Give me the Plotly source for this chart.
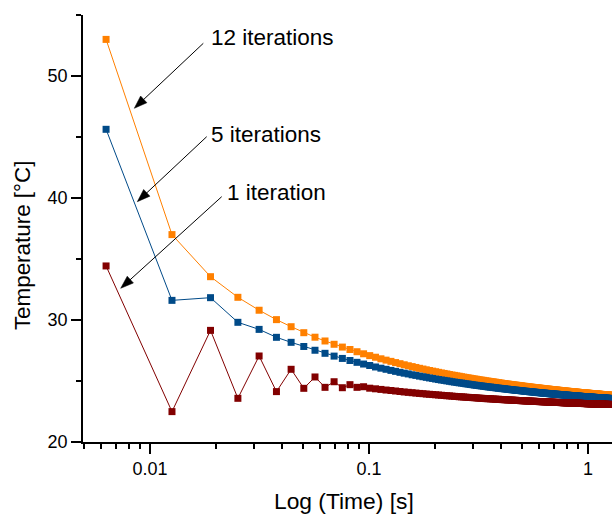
import math
import plotly.graph_objects as go

# time grid (s): constant step of 0.0063 s, 200 samples
time_step = 0.0063
time_s = [round(time_step * k, 5) for k in range(1, 201)]

temp_12_iter = [
    53.0, 37.0, 33.55, 31.86, 30.8, 30.03, 29.45, 28.96, 28.59, 28.28,
    28.01, 27.78, 27.58, 27.40, 27.23, 27.08, 26.95, 26.82, 26.71, 26.61,
    26.51, 26.42, 26.33, 26.25, 26.18, 26.11, 26.04, 25.98, 25.92, 25.86,
    25.81, 25.76, 25.71, 25.66, 25.62, 25.58, 25.53, 25.49, 25.46, 25.42,
    25.39, 25.35, 25.32, 25.29, 25.26, 25.23, 25.20, 25.17, 25.15, 25.12,
    25.09, 25.07, 25.05, 25.02, 25.00, 24.98, 24.96, 24.94, 24.92, 24.90,
    24.88, 24.86, 24.84, 24.82, 24.80, 24.79, 24.77, 24.75, 24.74, 24.72,
    24.71, 24.69, 24.68, 24.66, 24.65, 24.64, 24.62, 24.61, 24.60, 24.58,
    24.57, 24.56, 24.55, 24.53, 24.52, 24.51, 24.50, 24.49, 24.48, 24.47,
    24.46, 24.45, 24.44, 24.43, 24.42, 24.41, 24.40, 24.39, 24.38, 24.37,
    24.36, 24.35, 24.34, 24.33, 24.33, 24.32, 24.31, 24.30, 24.29, 24.28,
    24.28, 24.27, 24.26, 24.26, 24.25, 24.24, 24.23, 24.23, 24.22, 24.21,
    24.20, 24.20, 24.19, 24.18, 24.18, 24.17, 24.16, 24.16, 24.15, 24.15,
    24.14, 24.13, 24.13, 24.12, 24.12, 24.11, 24.11, 24.10, 24.09, 24.09,
    24.08, 24.08, 24.07, 24.07, 24.06, 24.06, 24.05, 24.05, 24.04, 24.04,
    24.03, 24.03, 24.02, 24.02, 24.01, 24.01, 24.00, 24.00, 23.99, 23.99,
    23.99, 23.98, 23.98, 23.97, 23.97, 23.96, 23.96, 23.96, 23.95, 23.95,
    23.94, 23.94, 23.94, 23.93, 23.93, 23.92, 23.92, 23.92, 23.91, 23.91,
    23.90, 23.90, 23.90, 23.89, 23.89, 23.89, 23.88, 23.88, 23.88, 23.87,
    23.87, 23.87, 23.86, 23.86, 23.86, 23.85, 23.85, 23.85, 23.84, 23.84,
]

temp_5_iter = [
    45.63, 31.61, 31.83, 29.81, 29.23, 28.58, 28.17, 27.83, 27.52, 27.27,
    27.04, 26.85, 26.68, 26.53, 26.39, 26.27, 26.15, 26.05, 25.96, 25.87,
    25.79, 25.71, 25.64, 25.58, 25.51, 25.46, 25.40, 25.35, 25.30, 25.25,
    25.21, 25.16, 25.12, 25.08, 25.05, 25.01, 24.98, 24.94, 24.91, 24.88,
    24.85, 24.83, 24.80, 24.77, 24.75, 24.72, 24.70, 24.67, 24.65, 24.63,
    24.61, 24.59, 24.57, 24.55, 24.53, 24.51, 24.50, 24.48, 24.46, 24.45,
    24.43, 24.41, 24.40, 24.38, 24.37, 24.36, 24.34, 24.33, 24.31, 24.30,
    24.29, 24.28, 24.26, 24.25, 24.24, 24.23, 24.22, 24.21, 24.20, 24.19,
    24.17, 24.16, 24.16, 24.14, 24.14, 24.12, 24.12, 24.11, 24.10, 24.09,
    24.08, 24.07, 24.06, 24.05, 24.05, 24.04, 24.03, 24.02, 24.01, 24.01,
    24.00, 23.99, 23.98, 23.98, 23.97, 23.96, 23.96, 23.95, 23.94, 23.94,
    23.93, 23.92, 23.92, 23.91, 23.91, 23.90, 23.89, 23.89, 23.88, 23.88,
    23.87, 23.86, 23.86, 23.85, 23.85, 23.84, 23.84, 23.83, 23.83, 23.82,
    23.82, 23.81, 23.81, 23.80, 23.80, 23.79, 23.79, 23.78, 23.78, 23.77,
    23.77, 23.76, 23.76, 23.76, 23.75, 23.75, 23.74, 23.74, 23.73, 23.73,
    23.73, 23.72, 23.72, 23.71, 23.71, 23.71, 23.70, 23.70, 23.70, 23.69,
    23.69, 23.68, 23.68, 23.68, 23.67, 23.67, 23.67, 23.66, 23.66, 23.66,
    23.65, 23.65, 23.65, 23.64, 23.64, 23.64, 23.63, 23.63, 23.63, 23.62,
    23.62, 23.62, 23.61, 23.61, 23.61, 23.60, 23.60, 23.60, 23.60, 23.59,
    23.59, 23.59, 23.59, 23.58, 23.58, 23.58, 23.57, 23.57, 23.57, 23.57,
]

temp_1_iter = [
    34.43, 22.49, 29.15, 23.58, 27.05, 24.13, 25.96, 24.40, 25.33, 24.48,
    24.94, 24.45, 24.70, 24.48, 24.53, 24.41, 24.36, 24.31, 24.26, 24.22,
    24.18, 24.14, 24.10, 24.07, 24.04, 24.01, 23.98, 23.96, 23.93, 23.91,
    23.89, 23.87, 23.85, 23.83, 23.81, 23.79, 23.78, 23.76, 23.74, 23.73,
    23.71, 23.70, 23.69, 23.67, 23.66, 23.65, 23.64, 23.63, 23.62, 23.60,
    23.59, 23.58, 23.57, 23.56, 23.55, 23.55, 23.54, 23.53, 23.52, 23.51,
    23.50, 23.50, 23.49, 23.48, 23.47, 23.47, 23.46, 23.45, 23.45, 23.44,
    23.43, 23.43, 23.42, 23.42, 23.41, 23.40, 23.40, 23.39, 23.39, 23.38,
    23.38, 23.37, 23.37, 23.36, 23.36, 23.35, 23.35, 23.34, 23.34, 23.34,
    23.33, 23.33, 23.32, 23.32, 23.31, 23.31, 23.31, 23.30, 23.30, 23.30,
    23.29, 23.29, 23.28, 23.28, 23.28, 23.27, 23.27, 23.27, 23.26, 23.26,
    23.26, 23.25, 23.25, 23.25, 23.25, 23.24, 23.24, 23.24, 23.23, 23.23,
    23.23, 23.22, 23.22, 23.22, 23.22, 23.21, 23.21, 23.21, 23.21, 23.20,
    23.20, 23.20, 23.20, 23.19, 23.19, 23.19, 23.19, 23.18, 23.18, 23.18,
    23.18, 23.18, 23.17, 23.17, 23.17, 23.17, 23.17, 23.16, 23.16, 23.16,
    23.16, 23.15, 23.15, 23.15, 23.15, 23.15, 23.14, 23.14, 23.14, 23.14,
    23.14, 23.14, 23.13, 23.13, 23.13, 23.13, 23.13, 23.13, 23.12, 23.12,
    23.12, 23.12, 23.12, 23.11, 23.11, 23.11, 23.11, 23.11, 23.11, 23.11,
    23.10, 23.10, 23.10, 23.10, 23.10, 23.10, 23.09, 23.09, 23.09, 23.09,
    23.09, 23.09, 23.09, 23.08, 23.08, 23.08, 23.08, 23.08, 23.08, 23.08,
]

series_names = ["12 iterations", "5 iterations", "1 iteration"]
series_values = [temp_12_iter, temp_5_iter, temp_1_iter]
series_colors = ["#FF8000", "#004A88", "#820000"]

x_major = [0.01, 0.1, 1]
x_major_text = ["0.01", "0.1", "1"]
x_minor = [0.005, 0.006, 0.007, 0.008, 0.009,
           0.02, 0.03, 0.04, 0.05, 0.06, 0.07, 0.08, 0.09,
           0.2, 0.3, 0.4, 0.5, 0.6, 0.7, 0.8, 0.9]
y_major = [20, 30, 40, 50]
y_minor = [25, 35, 45, 55]

FONT = "Liberation Sans, Arial, sans-serif"

# plot-area geometry in pixels
W, H = 612, 518
ML, MR, MT, MB = 83, 0, 15, 76
PW, PH = W - ML - MR, H - MT - MB


def px2paper(px, py):
    return (px - ML) / PW, (H - MB - py) / PH


fig = go.Figure()
for name, vals, col in zip(series_names, series_values, series_colors):
    fig.add_trace(go.Scatter(
        x=time_s, y=vals, name=name, mode="lines+markers",
        line=dict(color=col, width=1),
        marker=dict(symbol="square", size=7, color=col),
        showlegend=False,
    ))

# arrows: (tail_px, tip_px) in pixel coords of the page
arrow_pixels = [
    ((203.3, 43.3), (134.3, 108.3)),
    ((206.7, 136.7), (137.3, 201.7)),
    ((221.7, 196.7), (120.7, 288.3)),
]
HEAD_L, HEAD_W = 13.0, 4.6
shapes = []
for (tx, ty), (hx, hy) in arrow_pixels:
    dx, dy = hx - tx, hy - ty
    ln = math.hypot(dx, dy)
    ux, uy = dx / ln, dy / ln
    bx, by = hx - HEAD_L * ux, hy - HEAD_L * uy
    nx, ny = -uy, ux
    c1 = px2paper(bx + HEAD_W * nx, by + HEAD_W * ny)
    c2 = px2paper(bx - HEAD_W * nx, by - HEAD_W * ny)
    tip = px2paper(hx, hy)
    p0 = px2paper(tx, ty)
    p1 = px2paper(bx + 2 * ux, by + 2 * uy)
    shapes.append(dict(type="line", xref="paper", yref="paper",
                       x0=p0[0], y0=p0[1], x1=p1[0], y1=p1[1],
                       line=dict(color="black", width=1)))
    path = (f"M {tip[0]},{tip[1]} L {c1[0]},{c1[1]} "
            f"L {c2[0]},{c2[1]} Z")
    shapes.append(dict(type="path", xref="paper", yref="paper", path=path,
                       fillcolor="black", line=dict(color="black", width=0.5)))

labels = [
    dict(text="12 iterations", px=209.0, py=37.5),
    dict(text="5 iterations", px=208.7, py=134.3),
    dict(text="1 iteration", px=225.3, py=192.2),
]
for lb in labels:
    xx, yy = px2paper(lb["px"], lb["py"])
    fig.add_annotation(xref="paper", yref="paper", x=xx, y=yy,
                       text=lb["text"], showarrow=False, xanchor="left",
                       yanchor="middle",
                       font=dict(family=FONT, size=22.5, color="black"))

# axis titles placed as annotations to match the reference positions
xt = px2paper(343.7, 501.0)
fig.add_annotation(xref="paper", yref="paper", x=xt[0], y=xt[1],
                   text="Log (Time) [s]", showarrow=False,
                   xanchor="center", yanchor="middle",
                   font=dict(family=FONT, size=22.8, color="black"))
yt = px2paper(22.5, 245.6)
fig.add_annotation(xref="paper", yref="paper", x=yt[0], y=yt[1],
                   text="Temperature [°C]", showarrow=False, textangle=-90,
                   xanchor="center", yanchor="middle",
                   font=dict(family=FONT, size=22.4, color="black"))

fig.update_layout(
    width=W, height=H,
    margin=dict(l=ML, r=MR, t=MT, b=MB),
    plot_bgcolor="white", paper_bgcolor="white",
    font=dict(family=FONT, color="black"),
    shapes=shapes,
    xaxis=dict(
        type="log", range=[-2.306, 0.11],
        tickvals=x_major, ticktext=x_major_text,
        ticks="outside", ticklen=10, tickwidth=1.5, tickcolor="black",
        minor=dict(tickvals=x_minor, ticks="outside", ticklen=5,
                   tickwidth=1.5, tickcolor="black", showgrid=False),
        showline=True, linecolor="black", linewidth=1.5,
        showgrid=False, zeroline=False,
        tickfont=dict(family=FONT, size=18, color="black"),
    ),
    yaxis=dict(
        range=[20, 55],
        tickvals=y_major,
        ticks="outside", ticklen=10, tickwidth=1.5, tickcolor="black",
        minor=dict(tickvals=y_minor, ticks="outside", ticklen=5,
                   tickwidth=1.5, tickcolor="black", showgrid=False),
        showline=True, linecolor="black", linewidth=1.5,
        showgrid=False, zeroline=False,
        tickfont=dict(family=FONT, size=18, color="black"),
    ),
)

fig.write_html("out.html")
